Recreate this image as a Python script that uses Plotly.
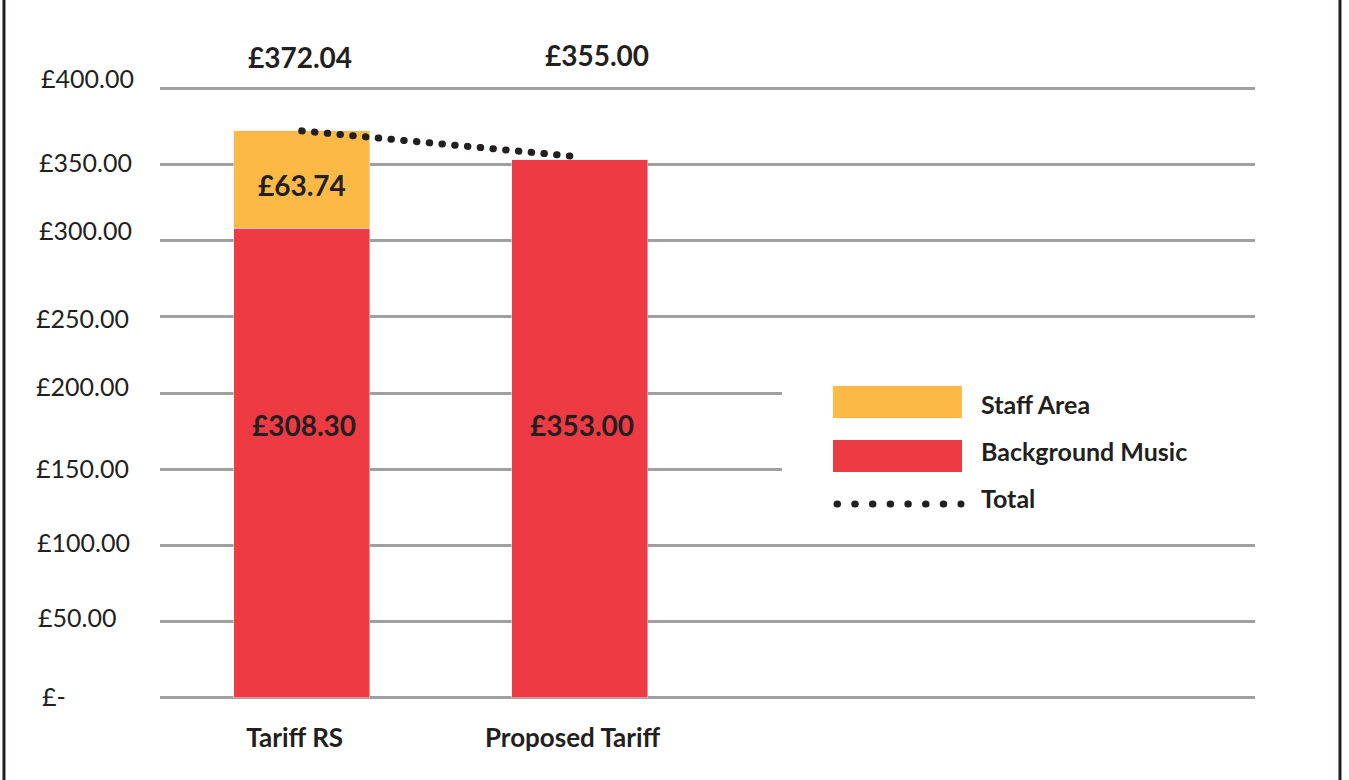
import plotly.graph_objects as go

categories = ["Tariff RS", "Proposed Tariff"]
background_music = [308.30, 353.00]
staff_area = [63.74, 0.0]
totals = [372.04, 355.00]
tick_vals = [0, 50, 100, 150, 200, 250, 300, 350, 400]
tick_text = ["£-", "£50.00", "£100.00", "£150.00", "£200.00", "£250.00", "£300.00", "£350.00", "£400.00"]

ORANGE = "#FDB946"
RED = "#EE3B43"
INK = "#231F20"
GRID = "#A0A0A2"
FONT = "Lato"

# small hand-placement offsets of the y tick labels in the original (pixels)
tick_yshift = [2, 5, 3, 1, 7, -1, 11, 2, 10]
tick_xshift = [5, 1, 0, -1, -1, -1, 2, 2, 4]

fig = go.Figure()
fig.add_trace(go.Bar(x=categories, y=background_music, marker_color=RED, width=0.49,
                     name="Background Music", showlegend=False))
fig.add_trace(go.Bar(x=categories, y=staff_area, marker_color=ORANGE, width=0.49,
                     name="Staff Area", showlegend=False))
fig.add_trace(go.Scatter(x=categories, y=totals, mode="lines",
                         line=dict(color=INK, width=7, dash="0.5px,12.3px"),
                         name="Total", showlegend=False))

ann = []
# y tick labels (left aligned)
for v, t, ys, xs in zip(tick_vals, tick_text, tick_yshift, tick_xshift):
    ann.append(dict(x=-0.1142, xref="paper", y=v, yref="y", text=t, showarrow=False,
                    xanchor="left", yanchor="middle", yshift=ys, xshift=xs,
                    font=dict(family=FONT, size=25, color=INK)))
# total labels above the plot
for c, t, xs, ys in zip(categories, totals, [-2, 17], [0, 2]):
    ann.append(dict(x=c, xref="x", y=1.0472, yref="paper", yshift=ys, xshift=xs, text=f"£{t:.2f}",
                    showarrow=False, xanchor="center", yanchor="middle",
                    font=dict(family=FONT, size=28, color=INK, weight="bold")))
# segment labels
for c, v in zip(categories, background_music):
    ann.append(dict(x=c, y=179, text=f"£{v:.2f}", showarrow=False, xshift=2,
                    font=dict(family=FONT, size=28, color=INK, weight="bold")))
for c, v, b in zip(categories, staff_area, background_music):
    if v > 0:
        ann.append(dict(x=c, y=b + v / 2, yshift=-6, text=f"£{v:.2f}", showarrow=False,
                        font=dict(family=FONT, size=28, color=INK, weight="bold")))

# legend (drawn manually): name, colour, swatch centre, text centre (paper y)
legend_items = [("Staff Area", ORANGE, 0.4853, 0.4821),
                ("Background Music", RED, 0.3974, 0.4055),
                ("Total", None, 0.3192, 0.329)]
shapes = [
    # white mask hiding the grid behind the legend
    dict(type="rect", xref="paper", yref="paper", x0=0.568, x1=1.02, y0=0.3583, y1=0.5244,
         fillcolor="white", line=dict(width=0), layer="above"),
    # outer frame
    dict(type="rect", xref="paper", yref="paper", x0=-0.1425, x1=1.0776, y0=-0.16, y1=1.1498,
         line=dict(color=INK, width=3), fillcolor="rgba(0,0,0,0)", layer="above"),
]
for name, col, ys, yt in legend_items:
    if col:
        shapes.append(dict(type="rect", xref="paper", yref="paper", x0=0.6146, x1=0.7324,
                           y0=ys - 0.026, y1=ys + 0.026, fillcolor=col, line=dict(width=0), layer="above"))
    else:
        shapes.append(dict(type="line", xref="paper", yref="paper", x0=0.6183, x1=0.7315,
                           y0=ys, y1=ys, line=dict(color=INK, width=7, dash="0.5px,17.2px"), layer="above"))
    ann.append(dict(x=0.7475, xref="paper", y=yt, yref="paper", text=name, showarrow=False,
                    xanchor="left", yanchor="middle",
                    font=dict(family=FONT, size=25, color=INK, weight="bold")))

fig.update_layout(
    width=1349, height=780,
    margin=dict(l=160, r=94, t=86, b=80),
    paper_bgcolor="white", plot_bgcolor="white",
    barmode="stack", bargap=0.5,
    font=dict(family=FONT, color=INK),
    xaxis=dict(type="category", range=[-0.51, 3.43], showgrid=False, zeroline=False, showline=False,
               ticks="outside", ticklen=15, tickcolor="rgba(0,0,0,0)", ticklabelshift=-7,
               tickfont=dict(family=FONT, size=26, color=INK, weight="bold")),
    yaxis=dict(range=[-1.5, 401.5], tickvals=tick_vals, showticklabels=False, showgrid=True,
               gridcolor=GRID, gridwidth=2.5, zeroline=False, showline=False),
    annotations=ann,
    shapes=shapes,
    showlegend=False,
)

post = """
document.querySelectorAll('path').forEach(function(p){
  var d = p.style.strokeDasharray;
  if (d && d !== 'none' && d !== '') { p.style.strokeLinecap = 'round'; }
});
"""
fig.write_html("out.html", post_script=post)
